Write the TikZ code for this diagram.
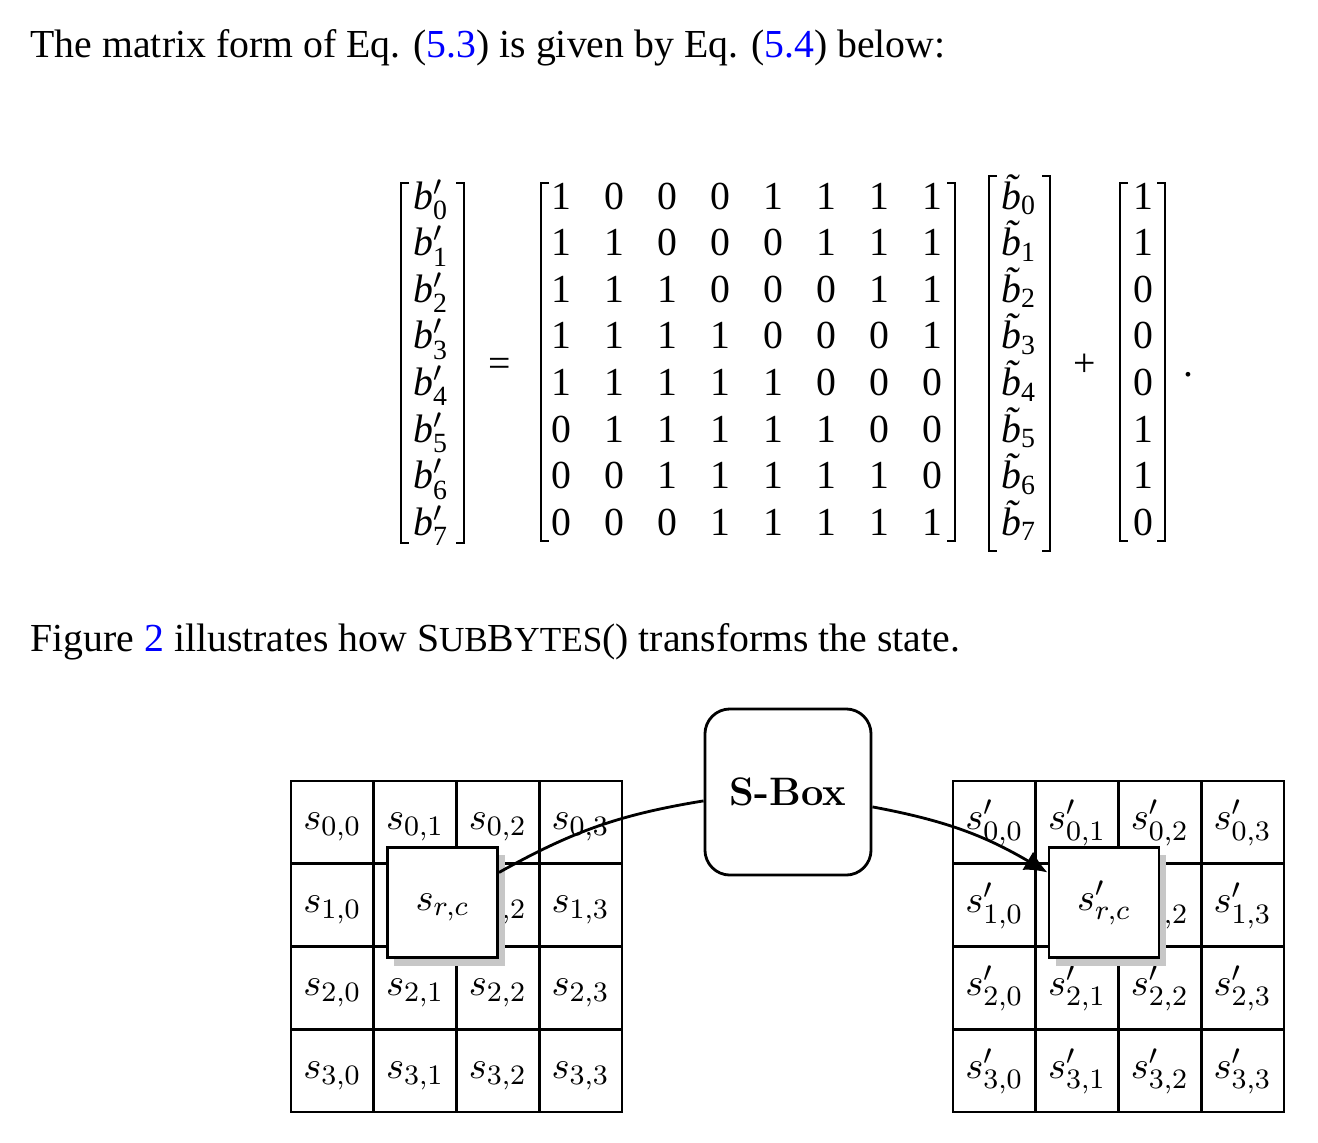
\documentclass[tikz,border=0pt]{standalone}
\usepackage{amsmath}
\usepackage[no-math]{fontspec}
\setmainfont{Liberation Serif}
\usepackage{tikz}
\usetikzlibrary{arrows.meta}
\usetikzlibrary{shadows}

\newcommand{\bprime}[1]{\textit{b}$'_{\textrm{#1}}$}
\newcommand{\btilde}[1]{\textit{b}\llap{\raisebox{0.2em}{\textit{\char"02DC}}\kern0.02em}$_{\textrm{#1}}$}
\newcommand{\smallcap}[1]{{\fontsize{10}{11}\selectfont #1}}

\begin{document}
\begin{tikzpicture}[x=0.01cm, y=-0.01cm,
	font=\fontsize{11.3}{13.6}\selectfont,
	entry/.style={anchor=base, inner sep=0pt},
	brk/.style={line width=0.6pt},
	cell/.style={draw, line width=0.8pt, minimum size=0.8275cm, inner sep=0pt,
		text height=0.6em, text depth=0.17em},
	focus/.style={cell, fill=white, minimum size=1.1cm,
		drop shadow={shadow xshift=0.07cm, shadow yshift=-0.08cm, fill=black!22, opacity=1}},
	sboxnode/.style={draw, line width=0.8pt, rounded corners=0.25cm, minimum size=1.66cm,
		font=\usefont{TU}{lmr}{bx}{n}\fontsize{11.3}{13.6}\selectfont}]
	\useasboundingbox (0,0) rectangle (1318,1142);

	\node[anchor=base west, inner sep=0pt] (intro) at (30,57)
		{The matrix form of Eq. (\textcolor{blue}{5.3}) is given by Eq. (\textcolor{blue}{5.4}) below:};

	% affine map
	\foreach \row [count=\i from 0] in {{1,0,0,0,1,1,1,1},{1,1,0,0,0,1,1,1},{1,1,1,0,0,0,1,1},{1,1,1,1,0,0,0,1},
			{1,1,1,1,1,0,0,0},{0,1,1,1,1,1,0,0},{0,0,1,1,1,1,1,0},{0,0,0,1,1,1,1,1}}
		\foreach \v [count=\j from 0] in \row
			\node[entry] (m-\i-\j) at ({561+53*\j},{209+46.6*\i}) {\v};
	\foreach \v [count=\i from 0] in {1,1,0,0,0,1,1,0}
		\node[entry] (c-\i) at (1143,{209+46.6*\i}) {\v};
	\foreach \i in {0,...,7} {
		\node[entry] (bp-\i) at (431,{209+46.6*\i}) {\bprime{\i}};
		\node[entry] (bt-\i) at (1019,{209+46.6*\i}) {\btilde{\i}};
	}
	\node[entry] (eq) at (500,376) {=};
	\node[entry] (plus) at (1085,376) {+};
	\node[entry] (dot) at (1188,376) {.};
	\foreach \l/\r/\t/\b in {401/464/183/543, 541/955/183/541, 989/1050/176/551, 1120/1165/183/541} {
		\draw[brk] ({\l+8},\t) -- (\l,\t) -- (\l,\b) -- ({\l+8},\b);
		\draw[brk] ({\r-8},\t) -- (\r,\t) -- (\r,\b) -- ({\r-8},\b);
	}

	\node[anchor=base west, inner sep=0pt] (figref) at (30,651)
		{Figure \textcolor{blue}{2} illustrates how S\smallcap{UB}B\smallcap{YTES}() transforms the state.};

	% state before and after
	\foreach \r in {0,...,3}
		\foreach \c in {0,...,3} {
			\node[cell] (in-\r-\c) at ({332.4+82.75*\c},{822.4+82.75*\r}) {$s_{\r,\c}$};
			\node[cell] (out-\r-\c) at ({994.4+82.75*\c},{822.4+82.75*\r}) {$s'_{\r,\c}$};
		}

	\node[focus] (src) at (442.5,902.5) {$s_{r,c}$};
	\node[focus] (dst) at (1104,902.5) {$s'_{r,c}$};
	\node[sboxnode] (sbox) at (788,792) {S-Box};

	\draw[line width=0.8pt] (src.28) to[bend left=10] (sbox.186);
	\draw[line width=0.8pt, -{Latex[length=6.5pt,width=6pt]}] (sbox.350) to[bend left=10] (dst.152);

\end{tikzpicture}
\end{document}
